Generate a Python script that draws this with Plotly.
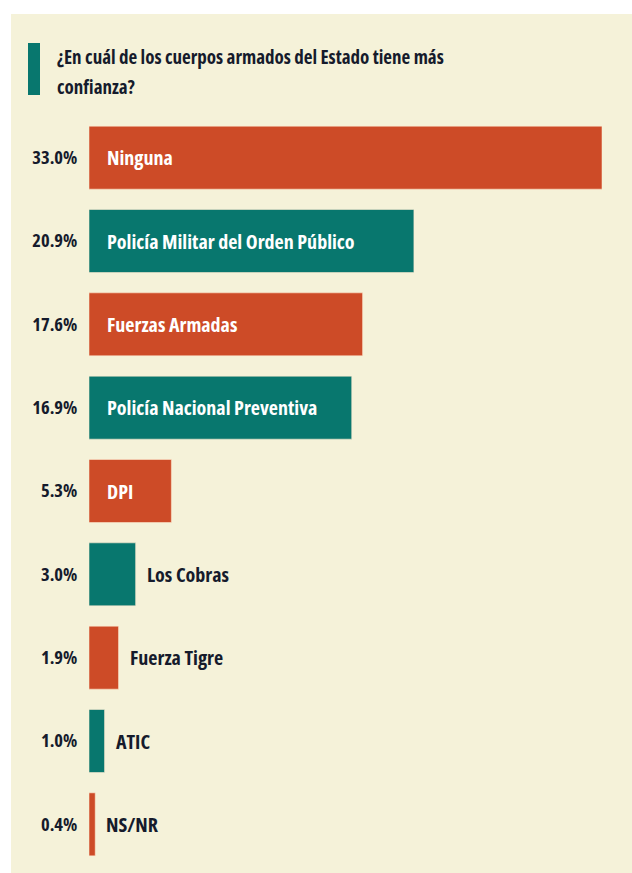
import plotly.graph_objects as go

categories = ["Ninguna", "Policía Militar del Orden Público", "Fuerzas Armadas",
              "Policía Nacional Preventiva", "DPI", "Los Cobras", "Fuerza Tigre",
              "ATIC", "NS/NR"]
values = [33.0, 20.9, 17.6, 16.9, 5.3, 3.0, 1.9, 1.0, 0.4]
pct_labels = ["33.0%", "20.9%", "17.6%", "16.9%", "5.3%", "3.0%", "1.9%", "1.0%", "0.4%"]
inside = [True, True, True, True, True, False, False, False, False]
title_lines = ["¿En cuál de los cuerpos armados del Estado tiene más", "confianza?"]

ORANGE = "#cd4b27"
TEAL = "#08776e"
CREAM = "#f5f2d9"
INK = "#151b2c"
FONT = "Open Sans, DejaVu Sans, sans-serif"

colors = [ORANGE if i % 2 == 0 else TEAL for i in range(len(values))]

W, H = 632, 873
ml, mr, mt, mb = 89, 30, 116, 7
pw, ph = W - ml - mr, H - mt - mb

fig = go.Figure(go.Bar(
    x=values, y=categories, orientation="h",
    marker=dict(color=colors, line=dict(color="rgba(255,235,210,0.55)", width=1)),
    width=0.756, hoverinfo="skip",
))

annotations = []
for cat, v, ins in zip(categories, values, inside):
    if ins:
        annotations.append(dict(x=0, y=cat, xref="x", yref="y", text="<b>%s</b>" % cat,
                                showarrow=False, xanchor="left", align="left", xshift=16,
                                font=dict(family=FONT, size=20, color="white")))
    else:
        annotations.append(dict(x=v, y=cat, xref="x", yref="y", text="<b>%s</b>" % cat,
                                showarrow=False, xanchor="left", align="left", xshift=9,
                                font=dict(family=FONT, size=20, color=INK)))

def px_x(p):
    return (p - ml) / pw

def px_y(p):
    return 1 - (p - mt) / ph

for i, line in enumerate(title_lines):
    annotations.append(dict(xref="paper", yref="paper", x=px_x(55), y=px_y(57 + 30 * i),
                            xanchor="left", yanchor="middle", align="left", showarrow=False,
                            text="<b>%s</b>" % line,
                            font=dict(family=FONT, size=19, color=INK)))

shapes = [
    dict(type="rect", xref="paper", yref="paper", layer="below",
         x0=px_x(11), x1=px_x(W + 5), y0=px_y(H + 5), y1=px_y(14),
         fillcolor=CREAM, line=dict(width=0)),
    dict(type="rect", xref="paper", yref="paper",
         x0=px_x(28), x1=px_x(40), y0=px_y(95), y1=px_y(43),
         fillcolor=TEAL, line=dict(width=0)),
]

fig.update_layout(
    width=W, height=H,
    margin=dict(l=ml, r=mr, t=mt, b=mb, pad=0),
    paper_bgcolor="white", plot_bgcolor="rgba(0,0,0,0)",
    showlegend=False,
    xaxis=dict(range=[0, 33.0], visible=False, fixedrange=True),
    yaxis=dict(autorange="reversed", tickmode="array", tickvals=categories,
               ticktext=["<b>%s</b>" % t for t in pct_labels],
               tickfont=dict(family=FONT, size=18.5, color=INK),
               showgrid=False, zeroline=False, showline=False,
               ticks="outside", ticklen=7, tickcolor="rgba(0,0,0,0)",
               range=[8.5, -0.5], fixedrange=True),
    annotations=annotations, shapes=shapes,
)

post = """
document.body.style.margin = '0';
var st = document.createElement('style');
st.textContent = 'svg text { font-stretch: 75% !important; }';
document.head.appendChild(st);
var gd = document.getElementById('{plot_id}');
Plotly.redraw(gd);
"""

fig.write_html("out.html", post_script=post, config={"displayModeBar": False})
